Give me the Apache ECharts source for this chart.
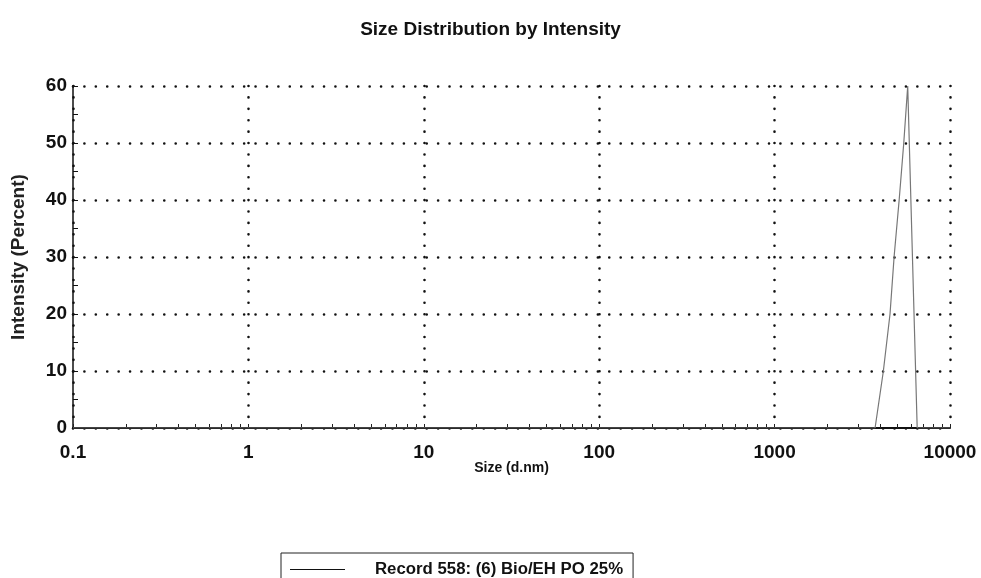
<!DOCTYPE html>
<html>
<head>
<meta charset="utf-8">
<script src="https://cdn.jsdelivr.net/npm/echarts@6/dist/echarts.min.js"></script>
<style>html,body{margin:0;padding:0;background:#fff}#c{width:981px;height:578px}</style>
</head>
<body>
<div id="c"></div>
<script>
// ---- data ----
const sizes = [0.1, 3740, 4170, 4550, 4800, 5130, 5450, 5740, 6500, 10000];
const intensity = [0, 0, 10, 20, 30, 40, 50, 60, 0, 0];
const xTickLabels = [0.1, 1, 10, 100, 1000, 10000];
const yTickLabels = [0, 10, 20, 30, 40, 50, 60];
const seriesName = 'Record 558: (6) Bio/EH PO 25%';

const minorTicks = [];
for (let i = 0; i < xTickLabels.length - 1; i++) {
  for (let k = 1; k <= 9; k++) minorTicks.push(+(xTickLabels[i] * k).toPrecision(6));
}
minorTicks.push(xTickLabels[xTickLabels.length - 1]);

const font = '"Liberation Sans", Arial, sans-serif';
const dotted = { color: '#111', width: 2.6, type: [0.01, 11.4], cap: 'round' };

const chart = echarts.init(document.getElementById('c'), null, { renderer: 'canvas' });
chart.setOption({
  animation: false,
  backgroundColor: '#fff',
  title: {
    text: 'Size Distribution by Intensity', left: 'center', top: 15,
    textStyle: { fontFamily: font, fontSize: 19, fontWeight: 'bold', color: '#111' }
  },
  grid: { left: 73, right: 31, top: 86, bottom: 150 },
  legend: {
    left: 281, top: 553,
    padding: [8, 10, 30, 9],
    borderColor: '#222', borderWidth: 1,
    icon: 'rect', itemWidth: 55, itemHeight: 1.2,
    itemStyle: { color: '#111' },
    textStyle: { fontFamily: font, fontSize: 16.8, fontWeight: 'bold', color: '#111', padding: [0, 0, 0, 25] },
    data: [seriesName]
  },
  xAxis: [{
    type: 'log', logBase: 10, min: 0.1, max: 10000,
    name: 'Size (d.nm)', nameLocation: 'middle', nameGap: 33, nameMoveOverlap: false,
    nameTextStyle: { fontFamily: font, fontSize: 14, fontWeight: 'bold', color: '#111' },
    axisLine: { lineStyle: { color: '#111', width: 2 } },
    axisTick: { show: false },
    axisLabel: { fontFamily: font, fontSize: 19, fontWeight: 'bold', color: '#111', margin: 15,
      customValues: xTickLabels, formatter: v => String(v) },
    splitLine: { show: true, lineStyle: dotted }
  }, {
    type: 'log', logBase: 10, min: 0.1, max: 10000, position: 'bottom',
    axisLine: { show: false },
    axisLabel: { show: false },
    splitLine: { show: false },
    axisTick: { show: true, inside: true, length: 4, customValues: minorTicks,
      lineStyle: { color: '#222', width: 1 } }
  }],
  yAxis: {
    type: 'value', min: 0, max: 60, interval: 10,
    name: 'Intensity (Percent)', nameLocation: 'middle', nameGap: 45, nameMoveOverlap: false,
    nameTextStyle: { fontFamily: font, fontSize: 19, fontWeight: 'bold', color: '#222' },
    axisLine: { show: true, lineStyle: { color: '#111', width: 1.5 } },
    axisTick: { show: true, inside: true, length: 5, lineStyle: { color: '#111' } },
    minorTick: { show: true, splitNumber: 2, length: 5, lineStyle: { color: '#111' } },
    axisLabel: { fontFamily: font, fontSize: 19, fontWeight: 'bold', color: '#111', margin: 6 },
    splitLine: { show: true, lineStyle: dotted }
  },
  series: [{
    name: seriesName, type: 'line', xAxisIndex: 0,
    data: sizes.map((s, i) => [s, intensity[i]]),
    symbol: 'none',
    lineStyle: { color: '#777', width: 1.2 },
    itemStyle: { color: '#555' }
  }]
});
</script>
</body>
</html>
